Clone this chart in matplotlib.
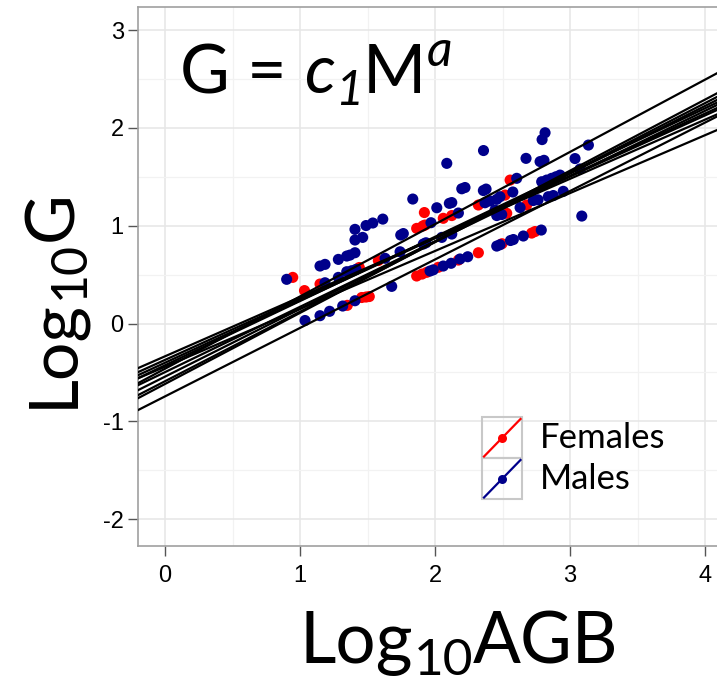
import matplotlib
matplotlib.use("Agg")
import numpy as np
import matplotlib.pyplot as plt
from matplotlib.lines import Line2D
from matplotlib.patches import Rectangle
from matplotlib.ticker import MultipleLocator

plt.rcParams["axes.unicode_minus"] = False

# ---- data: log10 above-ground biomass vs log10 growth ----
female_logM = [0.946, 1.033, 1.148, 1.350, 1.439, 1.457, 1.489, 1.513, 1.580, 1.864,
               1.909, 1.926, 1.921, 2.061, 2.124, 1.864, 1.904, 1.939, 2.024, 2.173,
               2.321, 2.321, 2.556, 2.679, 2.519, 2.506, 2.531, 2.716, 2.741, 2.496]
female_logG = [0.472, 0.337, 0.404, 0.186, 0.573, 0.266, 0.271, 0.276, 0.644, 0.973,
               0.997, 1.007, 1.135, 1.076, 1.104, 0.486, 0.506, 0.524, 0.575, 0.649,
               0.724, 1.212, 1.467, 1.212, 1.314, 1.143, 1.127, 0.925, 0.941, 0.816]

male_logM = [0.901, 1.037, 1.148, 1.185, 1.185, 1.148, 1.219, 1.284, 1.284, 1.316,
             1.346, 1.370, 1.407, 1.346, 1.383, 1.415, 1.407, 1.407, 1.407, 1.464,
             1.489, 1.539, 1.613, 1.630, 1.679, 1.741, 1.746, 1.765, 1.970, 1.835,
             2.013, 2.106, 2.124, 2.173, 2.087, 2.198, 2.222, 2.359, 2.358, 2.378,
             2.370, 2.407, 2.457, 2.481, 2.444, 2.457, 1.963, 1.987, 2.061, 2.119,
             2.185, 2.242, 2.050, 2.124, 1.913, 1.933, 2.815, 2.793, 2.674, 2.778,
             2.807, 3.037, 3.136, 3.087, 2.605, 2.576, 2.790, 2.827, 2.864, 2.896,
             2.926, 3.074, 2.950, 2.839, 2.876, 2.728, 2.763, 2.630, 2.457, 2.494,
             2.654, 2.787, 2.559, 2.580, 2.481]
male_logG = [0.452, 0.031, 0.588, 0.605, 0.417, 0.080, 0.125, 0.656, 0.472, 0.179,
             0.690, 0.700, 0.724, 0.530, 0.540, 0.554, 0.233, 0.963, 0.854, 0.881,
             1.002, 1.028, 1.068, 0.667, 0.380, 0.734, 0.905, 0.920, 1.031, 1.273,
             1.184, 1.229, 1.237, 1.130, 1.638, 1.378, 1.391, 1.769, 1.360, 1.375,
             1.235, 1.253, 1.270, 1.297, 1.160, 0.792, 0.537, 0.549, 0.588, 0.616,
             0.660, 0.683, 0.881, 0.915, 0.813, 0.826, 1.951, 1.881, 1.689, 1.656,
             1.669, 1.687, 1.825, 1.099, 1.485, 1.345, 1.450, 1.467, 1.485, 1.501,
             1.518, 1.580, 1.352, 1.297, 1.309, 1.258, 1.265, 1.186, 1.104, 1.115,
             0.895, 0.956, 0.849, 0.859, 0.806]

# fitted power laws, log10 G = log10 c1 + a * log10 M
fit_log_c1 = [-0.462, -0.442, -0.745, -0.618, -0.590, -0.543, -0.497, -0.427, -0.401, -0.372, -0.335]
fit_a = [0.739, 0.592, 0.700, 0.727, 0.711, 0.692, 0.668, 0.657, 0.637, 0.625, 0.605]

x_ticks = [0, 1, 2, 3, 4]
y_ticks = [-2, -1, 0, 1, 2, 3]
group_names = ["Females", "Males"]
group_colors = ["#FF0000", "#00008B"]

# ---- figure ----
W, H = 717, 686
fig = plt.figure(figsize=(W / 100, H / 100), dpi=100)
renderer = fig.canvas.get_renderer()


def fx(px):
    return px / W


def fy(py):
    return 1 - py / H


def text_run(x0, y0, pieces, vertical=False):
    """Write pieces (text, size, shift_px, style) one after another along a baseline."""
    pos = 0.0
    for txt, size, shift, style in pieces:
        if vertical:
            t = fig.text(fx(x0 + shift), fy(y0 - pos), txt, fontsize=size, family="Lato",
                         style=style, rotation=90, rotation_mode="anchor",
                         ha="left", va="baseline")
            pos += t.get_window_extent(renderer).height
        else:
            t = fig.text(fx(x0 + pos), fy(y0 + shift), txt, fontsize=size, family="Lato",
                         style=style, ha="left", va="baseline")
            pos += t.get_window_extent(renderer).width


ax = fig.add_axes([fx(138.3), fy(546), (772 - 138.3) / W, (546 - 6.7) / H])
ax.set_xlim(-0.198, 4.496)
ax.set_ylim(-2.275, 3.24)

ax.scatter(female_logM, female_logG, s=64, color=group_colors[0], edgecolors="none", zorder=2)
ax.scatter(male_logM, male_logG, s=64, color=group_colors[1], edgecolors="none", zorder=2)
for c, a in zip(fit_log_c1, fit_a):
    ax.axline((0, c), slope=a, color="black", lw=1.6, zorder=3)

ax.set_xticks(x_ticks)
ax.set_yticks(y_ticks)
ax.xaxis.set_minor_locator(MultipleLocator(0.5))
ax.yaxis.set_minor_locator(MultipleLocator(0.5))
ax.grid(which="major", color="#E6E6E6", lw=1.1)
ax.grid(which="minor", color="#F2F2F2", lw=0.9)
ax.set_axisbelow(True)
ax.tick_params(which="minor", length=0)
ax.tick_params(which="major", direction="out", length=7.5, width=1.0, color="#555555",
               labelsize=17, labelcolor="black")
ax.tick_params(axis="x", pad=6)
ax.tick_params(axis="y", pad=3)
for lab in ax.get_xticklabels() + ax.get_yticklabels():
    lab.set_fontfamily("Liberation Sans")
for side in ["left", "top", "bottom"]:
    ax.spines[side].set_color("#A0A0A0")
    ax.spines[side].set_linewidth(1.2)
ax.spines["right"].set_visible(False)

# axis titles and formula
text_run(300, 663, [("Log", 51, 0, "normal"), ("10", 37, 12, "normal"), ("AGB", 51, 0, "normal")])
text_run(72, 408, [("Log", 49, 0, "normal"), ("10", 36, 12, "normal"), ("G", 49, 0, "normal")],
         vertical=True)
text_run(180, 93, [("G = ", 49, 0, "normal"), ("c", 49, 0, "italic"), ("1", 35, 12, "italic"),
                   ("M", 49, 0, "normal"), ("a", 36, -27, "italic")])

# legend keys
key_top = [417, 458]
for name, col, top in zip(group_names, group_colors, key_top):
    fig.patches.append(Rectangle((fx(482), fy(top + 41)), 40 / W, 41 / H, transform=fig.transFigure,
                                 fill=False, edgecolor="#C8C8C8", lw=1.5))
    fig.lines.append(Line2D([fx(484), fx(520.5)], [fy(top + 39.5), fy(top + 2)],
                            transform=fig.transFigure, color=col, lw=1.6))
    fig.lines.append(Line2D([fx(502)], [fy(top + 20.5)], transform=fig.transFigure,
                            marker="o", markersize=6.5, color=col, markeredgewidth=0))
    fig.text(fx(540), fy(top + 31), name, fontsize=25, family="Lato", ha="left", va="baseline")

fig.savefig("out.png", dpi=100)
